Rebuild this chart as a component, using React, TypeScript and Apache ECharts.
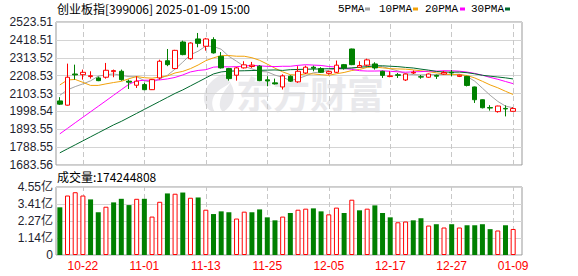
import React, { useEffect, useRef } from "react";
import * as echarts from "echarts";

// ---------- data ----------
const titleText = "创业板指[399006] 2025-01-09 15:00";
const lastVolume = 174244808;

const dates = [
  "10-17", "10-18", "10-21", "10-22", "10-23", "10-24", "10-25", "10-28", "10-29", "10-30",
  "10-31", "11-01", "11-04", "11-05", "11-06", "11-07", "11-08", "11-11", "11-12", "11-13",
  "11-14", "11-15", "11-18", "11-19", "11-20", "11-21", "11-22", "11-25", "11-26", "11-27",
  "11-28", "11-29", "12-02", "12-03", "12-04", "12-05", "12-06", "12-09", "12-10", "12-11",
  "12-12", "12-13", "12-16", "12-17", "12-18", "12-19", "12-20", "12-23", "12-24", "12-25",
  "12-26", "12-27", "12-30", "12-31", "01-02", "01-03", "01-06", "01-07", "01-08", "01-09",
];

const openP = [
  2060, 2035, 2218, 2214, 2203, 2195, 2199, 2232, 2234, 2176,
  2152, 2156, 2126, 2195, 2296, 2250, 2406, 2308, 2424, 2381,
  2420, 2322, 2250, 2211, 2254, 2262, 2264, 2184, 2166, 2142,
  2205, 2172, 2224, 2258, 2250, 2222, 2228, 2273, 2365, 2258,
  2270, 2277, 2234, 2203, 2214, 2183, 2224, 2202, 2199, 2210,
  2218, 2228, 2204, 2204, 2142, 2067, 2021, 1997, 2016, 1999,
];
const closeP = [
  2041, 2199, 2213, 2228, 2208, 2179, 2240, 2238, 2185, 2170,
  2176, 2126, 2185, 2293, 2273, 2357, 2332, 2400, 2398, 2424,
  2342, 2254, 2191, 2254, 2272, 2270, 2179, 2177, 2160, 2207,
  2176, 2234, 2258, 2252, 2228, 2232, 2270, 2254, 2273, 2268,
  2301, 2254, 2210, 2207, 2210, 2218, 2228, 2200, 2218, 2205,
  2227, 2224, 2211, 2151, 2067, 2020, 2018, 2030, 2013, 2015,
];
const lowP = [
  2036, 2033, 2185, 2185, 2191, 2176, 2191, 2199, 2179, 2130,
  2136, 2123, 2124, 2185, 2264, 2247, 2328, 2302, 2375, 2355,
  2338, 2250, 2179, 2179, 2250, 2254, 2176, 2146, 2156, 2127,
  2171, 2166, 2218, 2234, 2224, 2214, 2224, 2244, 2270, 2254,
  2264, 2244, 2195, 2199, 2195, 2177, 2218, 2190, 2195, 2189,
  2214, 2205, 2200, 2145, 2048, 2016, 2003, 1991, 1969, 1997,
];
const highP = [
  2082, 2279, 2273, 2244, 2234, 2203, 2283, 2244, 2244, 2185,
  2205, 2166, 2188, 2302, 2365, 2360, 2414, 2404, 2459, 2430,
  2434, 2347, 2254, 2260, 2293, 2289, 2270, 2205, 2191, 2216,
  2210, 2264, 2267, 2267, 2258, 2238, 2297, 2277, 2367, 2293,
  2308, 2287, 2238, 2234, 2224, 2221, 2239, 2212, 2221, 2215,
  2236, 2242, 2214, 2207, 2144, 2069, 2035, 2032, 2034, 2023,
];

// volume in 亿 (1e8)
const volumeYi = [
  3.19, 3.98, 4.2, 3.98, 3.72, 2.86, 3.23, 3.52, 3.76, 3.34,
  3.76, 3.76, 2.57, 3.56, 4.12, 4.1, 4.18, 3.83, 3.85, 3.03,
  2.74, 2.92, 2.86, 2.44, 2.9, 2.86, 3.05, 2.52, 2.32, 2.57,
  2.81, 3.03, 3.1, 3.12, 2.92, 2.72, 3.17, 2.81, 3.7, 2.99,
  3.1, 3.32, 2.81, 2.52, 2.19, 2.24, 2.32, 2.46, 1.97, 2.06,
  1.84, 2.06, 1.84, 1.99, 1.99, 2.06, 1.73, 1.64, 1.99, lastVolume / 1e8,
];
// 1 = up day (red hollow), -1 = down day (green)
const volumeDir = [
  -1, 1, 1, 1, -1, -1, 1, -1, -1, -1,
  1, -1, 1, 1, -1, 1, -1, 1, -1, 1,
  -1, -1, -1, 1, 1, -1, -1, -1, -1, 1,
  -1, 1, 1, -1, -1, 1, 1, -1, 1, -1,
  1, -1, -1, -1, 1, 1, -1, -1, 1, -1,
  1, -1, 1, -1, -1, -1, -1, 1, -1, 1,
];

// moving averages before a full window is visible
const ma5Head = [2093, 2125, 2144, 2160];
const ma10Head = [2154, 2183, 2186, 2169, 2151, 2151, 2160, 2168, 2175];
const ma20Head = [
  1866.5, 1898.8, 1931.6, 1963.9, 1996.1, 2028.4, 2060.7, 2093.5, 2125.8, 2158.0,
  2177.4, 2181.5, 2181.5, 2183.3, 2189.1, 2197.9, 2212.6, 2230.2, 2239.0,
];
const ma30Head = [
  1755.1, 1778.5, 1802.0, 1825.4, 1848.9, 1872.4, 1895.8, 1919.3, 1939.8, 1963.3,
  1986.8, 2010.2, 2033.7, 2057.2, 2080.6, 2104.1, 2124.6, 2148.1, 2171.5, 2195.0,
  2218.5, 2230.2, 2234.9, 2236.1, 2237.2, 2238.4, 2239.6, 2240.8, 2241.9,
];

const priceTicks = ["1683.56", "1788.55", "1893.55", "1998.54", "2103.53", "2208.53", "2313.52", "2418.51", "2523.51"];
const volTicks = ["0", "1.14亿", "2.27亿", "3.41亿", "4.55亿"];
const P_MIN = 1683.56;
const P_MAX = 2523.51;
const VOL_MAX = 4.55;

const maNames = ["5PMA", "10PMA", "20PMA", "30PMA"];
const maColors = ["#a3a3a3", "#f2a20a", "#ff00ff", "#00692e"];

// ---------- helpers ----------
const P_STEP = (P_MAX - P_MIN) / (priceTicks.length - 1);
const toU = (p: number) => (p - P_MIN) / P_STEP;
const VOL_STEP = VOL_MAX / (volTicks.length - 1);

function movingAvg(head: number[], n: number) {
  const out = head.slice();
  for (let i = head.length; i < closeP.length; i++) {
    let s = 0;
    for (let k = i - n + 1; k <= i; k++) s += closeP[k];
    out.push(s / n);
  }
  return out;
}

const LOGO_D =
  "M22 0 C8 6 0 18 4 30 C6 35 10 38 14 38 C10 32 10 24 16 18 C20 14 26 12 30 8 C26 14 20 20 19 28 C18 33 20 36 22 38 C32 32 36 20 30 10 C28 6 25 3 22 0 Z";
let logoRegistered = false;

export default function App() {
  const ref = useRef<HTMLDivElement>(null);

  useEffect(() => {
    if (!ref.current) return;
    if (!logoRegistered) {
      echarts.graphic.registerShape("logo", echarts.graphic.extendPath(LOGO_D, {}) as any);
      logoRegistered = true;
    }
    const chart = echarts.init(ref.current, undefined, { renderer: "svg" });

    const mas = [movingAvg(ma5Head, 5), movingAvg(ma10Head, 10), movingAvg(ma20Head, 20), movingAvg(ma30Head, 30)];
    const markDates = dates.filter((_, i) => i % 8 === 3).map((d) => ({ xAxis: d }));
    const vMark = {
      silent: true,
      symbol: ["none", "none"],
      z: 1,
      label: { show: false },
      emphasis: { disabled: true },
      lineStyle: { type: [5, 3], color: "#c8c8c8", width: 1 },
      data: markDates,
    };

    const legendX = [338, 379, 425, 471];
    const squareX = [365, 413, 460, 505];
    const legendGraphics: any[] = [];
    maNames.forEach((n, i) => {
      legendGraphics.push({
        type: "text",
        x: legendX[i],
        y: 9,
        style: { text: n, fill: "#000", font: '11px "Liberation Mono"', verticalAlign: "middle" },
      });
      legendGraphics.push({
        type: "rect",
        shape: { x: squareX[i], y: 7.5, width: 5, height: 3 },
        style: { fill: maColors[i] },
      });
    });

    const option: any = {
      animation: false,
      backgroundColor: "#ffffff",
      graphic: [
        {
          type: "logo",
          x: 201,
          y: 74,
          scaleX: 1,
          scaleY: 1,
          z: -10,
          style: { fill: "#e9e9ec" },
        },
        {
          type: "text",
          x: 236,
          y: 93,
          z: -10,
          style: {
            text: "东方财富",
            fill: "#e9e9ec",
            font: 'bold 37px "Noto Sans CJK SC"',
            verticalAlign: "middle",
          },
        },
        {
          type: "text",
          x: 57,
          y: 8.5,
          style: { text: titleText, fill: "#000", font: '12px "Noto Sans CJK SC"', verticalAlign: "middle" },
        },
        {
          type: "text",
          x: 57,
          y: 176.5,
          style: {
            text: "成交量:" + String(lastVolume),
            fill: "#000",
            font: '12px "Noto Sans CJK SC"',
            verticalAlign: "middle",
          },
        },
        ...legendGraphics,
      ],
      grid: [
        { left: 56, top: 22, width: 466, height: 143, show: true, borderColor: "#999", borderWidth: 1, backgroundColor: "transparent" },
        { left: 56, top: 22, width: 461, height: 143 },
        { left: 56, top: 187, width: 466, height: 68, show: true, borderColor: "#999", borderWidth: 1, backgroundColor: "transparent" },
        { left: 56, top: 187, width: 461, height: 68 },
      ],
      xAxis: [
        { type: "value", gridIndex: 0, min: 0, max: 1, show: false },
        { type: "category", gridIndex: 1, data: dates, boundaryGap: true, show: false },
        { type: "value", gridIndex: 2, min: 0, max: 1, show: false },
        {
          type: "category",
          gridIndex: 3,
          data: dates,
          boundaryGap: true,
          axisLine: { show: false },
          axisTick: { show: false },
          splitLine: { show: false },
          axisLabel: {
            interval: (i: number) => i % 8 === 3,
            color: "#ff0000",
            fontSize: 12,
            fontFamily: "Liberation Sans",
            margin: 5,
          },
        },
      ],
      yAxis: [
        {
          type: "value",
          gridIndex: 0,
          min: 0,
          max: priceTicks.length - 1,
          interval: 1,
          axisLine: { show: false },
          axisTick: { show: false },
          splitLine: { show: true, lineStyle: { color: "#d4d4d4", width: 1 } },
          axisLabel: {
            formatter: (v: number) => priceTicks[Math.round(v)],
            color: "#1e1e2e",
            fontSize: 12,
            fontFamily: "Liberation Sans",
            margin: 3,
          },
        },
        { type: "value", gridIndex: 1, min: 0, max: priceTicks.length - 1, show: false },
        {
          type: "value",
          gridIndex: 2,
          min: 0,
          max: VOL_MAX,
          interval: VOL_STEP,
          axisLine: { show: false },
          axisTick: { show: false },
          splitLine: { show: true, lineStyle: { color: "#d4d4d4", width: 1 } },
          axisLabel: {
            formatter: (v: number) => volTicks[Math.round(v / VOL_STEP)],
            color: "#1e1e2e",
            fontSize: 12,
            fontFamily: "Liberation Sans, Noto Sans CJK SC",
            margin: 3,
          },
        },
        { type: "value", gridIndex: 3, min: 0, max: VOL_MAX, show: false },
      ],
      series: [
        ...mas.map((m, i) => ({
          name: maNames[i],
          type: "line",
          xAxisIndex: 1,
          yAxisIndex: 1,
          data: m.map((v) => toU(v)),
          showSymbol: false,
          symbol: "none",
          color: maColors[i],
          lineStyle: { width: 1, color: maColors[i] },
          z: 2,
          silent: true,
        })),
        {
          name: "K",
          type: "candlestick",
          xAxisIndex: 1,
          yAxisIndex: 1,
          barWidth: 5,
          z: 3,
          data: dates.map((_, i) => [toU(openP[i]), toU(closeP[i]), toU(lowP[i]), toU(highP[i])]),
          itemStyle: {
            color: "#ffffff",
            color0: "#008000",
            borderColor: "#ff0000",
            borderColor0: "#008000",
            borderWidth: 1,
          },
          markLine: vMark,
        },
        {
          name: "VOL",
          type: "bar",
          xAxisIndex: 3,
          yAxisIndex: 3,
          barWidth: 5,
          data: volumeYi.map((v, i) => ({
            value: v,
            itemStyle:
              volumeDir[i] > 0
                ? { color: "#ffffff", borderColor: "#ff0000", borderWidth: 1 }
                : { color: "#008000", borderWidth: 0 },
          })),
          markLine: vMark,
        },
      ],
    };
    chart.setOption(option);
    return () => chart.dispose();
  }, []);

  return (
    <div
      ref={ref}
      style={{ position: "fixed", left: 0, top: 0, width: 578, height: 276, background: "#fff" }}
    />
  );
}
